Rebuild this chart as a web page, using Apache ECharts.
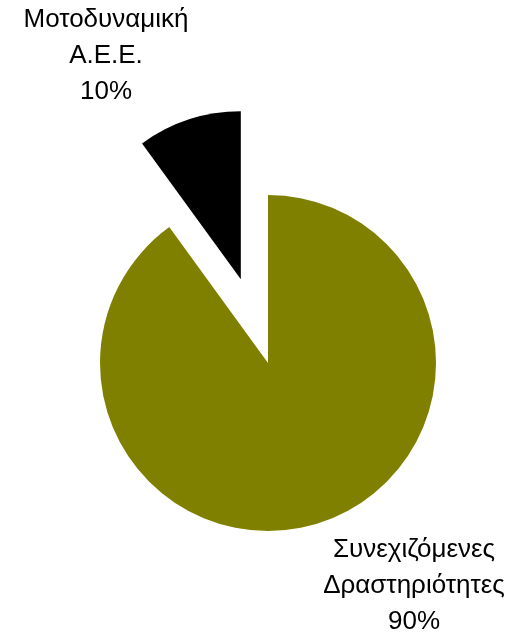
<!DOCTYPE html>
<html><head><meta charset="utf-8">
<script src="https://cdn.jsdelivr.net/npm/echarts@6/dist/echarts.min.js"></script>
<style>html,body{margin:0;padding:0;background:#fff}#c{width:514px;height:634px}</style>
</head><body><div id="c"></div>
<script>
const categories = ["Συνεχιζόμενες\nΔραστηριότητες", "Μοτοδυναμική\nΑ.Ε.Ε."];
const values = [90, 10];
const colors = ["#808000", "#000000"];
const labelPos = [[414, 586], [106, 56]];

const total = values.reduce((a, b) => a + b, 0);
const chart = echarts.init(document.getElementById('c'), null, {renderer: 'canvas'});
chart.setOption({
  animation: false,
  graphic: categories.map((c, i) => ({
    type: 'text',
    x: labelPos[i][0],
    y: labelPos[i][1],
    style: {
      text: c + '\n' + Math.round(values[i] / total * 100) + '%',
      fontFamily: 'Liberation Sans, Arial, sans-serif',
      fontSize: 26,
      lineHeight: 36,
      fill: '#000',
      align: 'center',
      verticalAlign: 'middle'
    }
  })),
  series: [{
    type: 'pie',
    center: [268, 363],
    radius: 168,
    startAngle: 90,
    clockwise: true,
    selectedMode: 'single',
    selectedOffset: 88,
    emphasis: {disabled: true},
    label: {show: false},
    labelLine: {show: false},
    data: categories.map((c, i) => ({
      name: c, value: values[i],
      selected: i === 1,
      itemStyle: {color: colors[i]}
    }))
  }]
});
</script></body></html>
